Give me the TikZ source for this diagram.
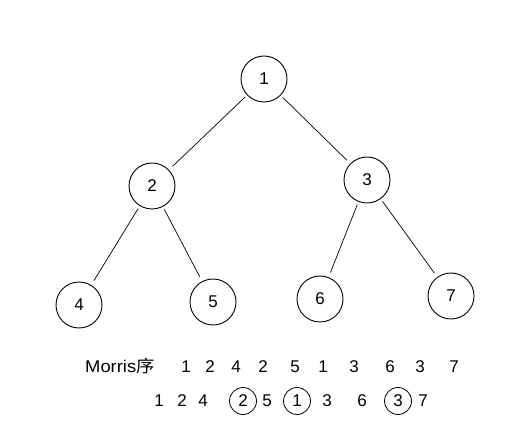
\documentclass[tikz,border=0pt]{standalone}
\usepackage{fontspec}
\setmainfont{Liberation Sans}
\newfontfamily\cjk{Noto Sans CJK SC}
\begin{document}
\begin{tikzpicture}[x=1pt,y=-1pt,
  tnode/.style={circle,draw,line width=0.9pt,minimum size=46pt,inner sep=0pt,font=\fontsize{17}{17}\selectfont},
  edge/.style={line width=0.7pt,shorten <=3pt,shorten >=5pt},
  seq/.style={inner sep=0pt,font=\fontsize{17}{17}\selectfont},
  ring/.style={circle,draw,line width=0.8pt,minimum size=27pt,inner sep=0pt,font=\fontsize{17}{17}\selectfont}]
\useasboundingbox (0,0) rectangle (528,446);
\node[tnode] (n1) at (264,79) {1};
\node[tnode] (n2) at (152,186) {2};
\node[tnode] (n3) at (367,180) {3};
\node[tnode] (n4) at (79,305) {4};
\node[tnode] (n5) at (213,302) {5};
\node[tnode] (n6) at (320,299) {6};
\node[tnode] (n7) at (451,296) {7};
\draw[edge] (n1) -- (n2);
\draw[edge] (n1) -- (n3);
\draw[edge] (n2) -- (n4);
\draw[edge] (n2) -- (n5);
\draw[edge] (n3) -- (n6);
\draw[edge] (n3) -- (n7);
\node[seq,anchor=west,xscale=1.08] (lab) at (85,366) {Morris{\cjk 序}};
\node[seq] (a1) at (186,367) {1};
\node[seq] (a2) at (210,367) {2};
\node[seq] (a3) at (236,367) {4};
\node[seq] (a4) at (263,367) {2};
\node[seq] (a5) at (295,367) {5};
\node[seq] (a6) at (323,367) {1};
\node[seq] (a7) at (354,367) {3};
\node[seq] (a8) at (390,367) {6};
\node[seq] (a9) at (420,367) {3};
\node[seq] (a10) at (454,367) {7};
\node[seq] (b1) at (159,401) {1};
\node[seq] (b2) at (182,401) {2};
\node[seq] (b3) at (203,401) {4};
\node[ring] (b4) at (243,401) {2};
\node[seq] (b5) at (267,401) {5};
\node[ring] (b6) at (297,401) {1};
\node[seq] (b7) at (327,401) {3};
\node[seq] (b8) at (362,401) {6};
\node[ring] (b9) at (398,401) {3};
\node[seq] (b10) at (423,401) {7};
\end{tikzpicture}
\end{document}
